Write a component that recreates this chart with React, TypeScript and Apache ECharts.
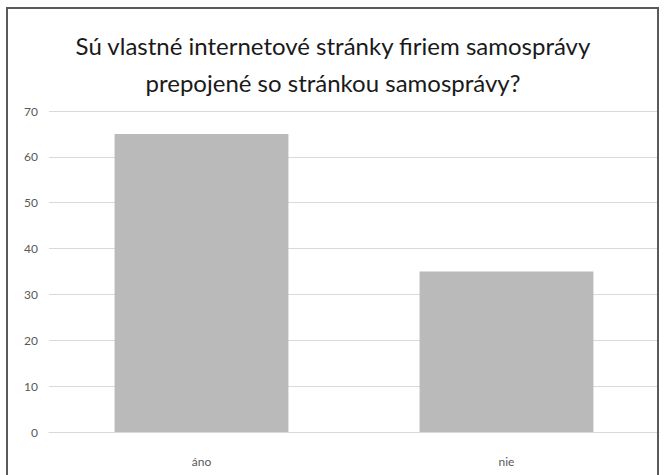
import React, { useEffect, useRef } from "react";
import * as echarts from "echarts";

const titleLines = [
  "Sú vlastné internetové stránky firiem samosprávy",
  "prepojené so stránkou samosprávy?",
];
const categories = ["áno", "nie"];
const values = [65, 35];
const yMin = 0;
const yMax = 70;
const yInterval = 10;

const FONT = "Lato, 'Open Sans', sans-serif";

export default function App() {
  const ref = useRef<HTMLDivElement>(null);
  useEffect(() => {
    if (!ref.current) return;
    const chart = echarts.init(ref.current, null, { renderer: "svg" });
    chart.setOption({
      animation: false,
      backgroundColor: "#ffffff",
      title: {
        text: titleLines.join("\n"),
        left: "center",
        top: 22,
        textStyle: {
          fontFamily: FONT,
          fontSize: 24,
          fontWeight: "normal",
          color: "#1a1a1a",
          lineHeight: 37,
        },
      },
      graphic: [
        {
          type: "rect",
          shape: { x: 7, y: 8, width: 651, height: 490 },
          style: { fill: "none", stroke: "#5a5a5a", lineWidth: 2 },
          silent: true,
          z: 100,
        },
      ],
      grid: { left: 49, right: 7, top: 111, bottom: 43 },
      xAxis: {
        type: "category",
        data: categories,
        axisLine: { show: true, lineStyle: { color: "#d9d9d9", width: 1 } },
        axisTick: { show: false },
        axisLabel: {
          color: "#595959",
          fontSize: 12,
          fontFamily: FONT,
          margin: 23,
        },
      },
      yAxis: {
        type: "value",
        min: yMin,
        max: yMax,
        interval: yInterval,
        axisLine: { show: false },
        axisTick: { show: false },
        splitLine: { lineStyle: { color: "#d9d9d9", width: 1 } },
        axisLabel: {
          color: "#595959",
          fontSize: 12,
          fontFamily: FONT,
          margin: 11,
        },
      },
      series: [
        {
          type: "bar",
          data: values,
          barWidth: "57%",
          itemStyle: { color: "#bababa" },
        },
      ],
    });
    return () => chart.dispose();
  }, []);
  return (
    <div
      ref={ref}
      style={{ position: "fixed", left: 0, top: 0, width: 666, height: 475 }}
    />
  );
}
